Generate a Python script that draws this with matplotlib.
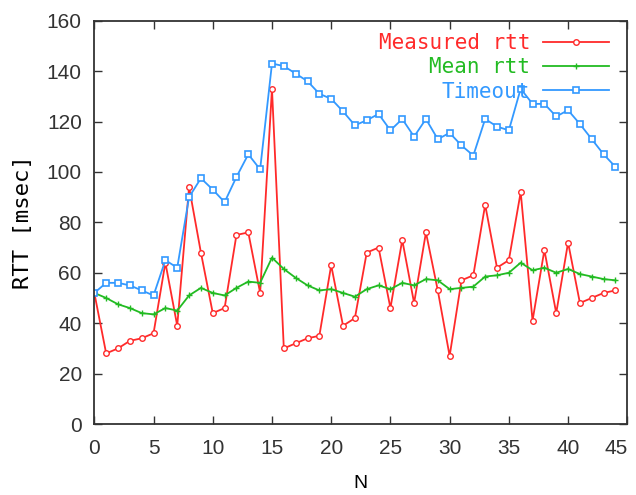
import matplotlib
matplotlib.use("Agg")
import matplotlib.pyplot as plt
import numpy as np

# sample index
n = np.arange(0, 45)

# values (msec)
measured_rtt = [52, 28, 30, 33, 34, 36, 64, 39, 94, 68,
                44, 46, 75, 76, 52, 133, 30, 32, 34, 35,
                63, 39, 42, 68, 70, 46, 73, 48, 76, 53,
                27, 57, 59, 87, 62, 65, 92, 41, 69, 44,
                72, 48, 50, 52, 53]
mean_rtt = [52, 50, 47.5, 46, 44, 43.5, 46, 45, 51, 54,
            52, 51, 54, 56.5, 56, 66, 61.5, 58, 55, 53,
            53.5, 52, 50.5, 53.5, 55, 53.5, 56, 55, 57.5, 57,
            53.5, 54, 54.5, 58.5, 59, 60, 64, 61, 62, 60,
            61.5, 59.5, 58.5, 57.5, 57]
timeout = [52, 56, 56, 55, 53, 51, 65, 62, 90, 97.5,
           93, 88, 98, 107, 101, 143, 142, 139, 136, 131,
           129, 124, 118.5, 120.5, 123, 116.5, 121, 114, 121, 113,
           115.5, 110.5, 106.5, 121, 118, 116.5, 133, 127, 127, 122,
           124.5, 119, 113, 107, 102]

red = '#ff2a2a'
green = '#22bb22'
blue = '#3399ff'

fig = plt.figure(figsize=(6.36, 4.95), dpi=100)
ax = fig.add_axes([0.1483, 0.1434, 0.838, 0.8148])

ax.plot(n, measured_rtt, color=red, lw=1.3, marker='o', ms=4,
        mfc='white', mec=red, mew=1.0, label='Measured rtt')
ax.plot(n, mean_rtt, color=green, lw=1.3, marker='+', ms=5,
        mew=1.0, label='Mean rtt')
ax.plot(n, timeout, color=blue, lw=1.3, marker='s', ms=4.5,
        mfc='white', mec=blue, mew=1.2, label='Timeout')

ax.set_xlim(0, 45)
ax.set_ylim(0, 160)
ax.set_xticks(np.arange(0, 46, 5))
ax.set_yticks(np.arange(0, 161, 20))
ax.tick_params(direction='in', top=True, right=True, length=6, width=1,
               labelsize=15, colors='#333333')
ax.tick_params(axis='x', pad=11)
ax.tick_params(axis='y', pad=9)
for lab in ax.get_xticklabels() + ax.get_yticklabels():
    lab.set_family('Liberation Sans')
# keep the last x label inside the canvas
ax.get_xticklabels()[-1].set_horizontalalignment('right')
ax.get_xticklabels()[-1].set_x(45.6)
for sp in ax.spines.values():
    sp.set_linewidth(1.3)
    sp.set_color('#333333')

ax.set_xlabel('N', fontsize=14, family='Liberation Sans', labelpad=12)
ax.set_ylabel('RTT [msec]', fontsize=16, family='DejaVu Sans Mono', labelpad=10)

leg = ax.legend(loc='upper right', bbox_to_anchor=(0.99, 1.0), frameon=False,
                markerfirst=False, labelcolor='linecolor', handlelength=3.2,
                numpoints=1, prop={'family': 'DejaVu Sans Mono', 'size': 15},
                labelspacing=0.2, borderaxespad=0.2, handletextpad=0.6)

fig.savefig('out.png', dpi=100)
